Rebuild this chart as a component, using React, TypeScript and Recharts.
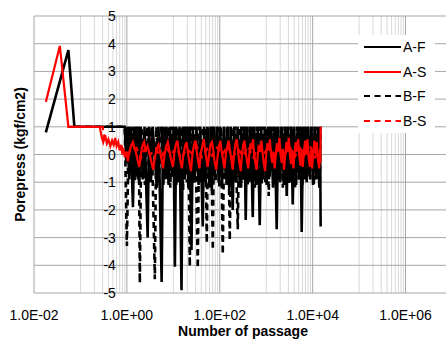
import React from 'react';
import { LineChart, Line, XAxis, YAxis, ReferenceLine, ReferenceDot, Legend } from 'recharts';

const xTicks = [0.01, 1, 100, 10000, 1000000];
const xTickLabels = ['1.0E-02', '1.0E+00', '1.0E+02', '1.0E+04', '1.0E+06'];
const yTicks = [5, 4, 3, 2, 1, 0, -1, -2, -3, -4, -5];
const majorGridX = [0.01, 1, 100, 10000, 1000000];
const minorDecades = [0.1, 10, 1000, 100000];
const minorMultipliers = [1, 2, 3, 4, 5, 6, 7, 8, 9];
const seriesNames = ['A-F', 'A-S', 'B-F', 'B-S'];

const afPoints: [number, number][] = [
  [0.018, 0.8], [0.055, 3.77], [0.074, 1.0], [0.9, 1.0],
  [0.97, -0.3], [1.03, 1], [1.12, -0.9], [1.2, 1], [1.35, -1.9], [1.45, 1], [1.58, -0.8], [1.7, 1],
  [1.85, -1.1], [1.98, 1], [2.2, -0.9], [2.4, 1], [2.8, -3.0], [3.0, 1], [3.3, -1.0], [3.6, 1],
  [4.4, -1.2], [4.8, 1], [5.6, -4.6], [6.0, 1], [6.6, -0.9], [7.1, 1], [7.9, -1.1], [8.5, 1],
  [9.5, -0.8], [10.1, 1],
  [10.8, -4.05], [11.5, 1], [12.5, -1.0], [13.6, 1], [15.0, -4.9], [16.0, 1], [17.5, -0.9], [19, 1],
  [21, -1.2], [22.5, 1], [24.6, -3.45], [26.3, 1], [29, -0.9], [31.5, 1], [35, -1.1], [38, 1],
  [43, -2.6], [46, 1], [50, -1.0], [54, 1], [60, -1.2], [64, 1], [67.5, -1.3], [72, 1],
  [79, -0.9], [86, 1], [95, -1.0], [102, 1],
  [112, -1.1], [122, 1], [135, -0.9], [146, 1], [160, -1.3], [172, 1], [190, -2.0], [205, 1],
  [225, -1.0], [242, 1], [270, -1.2], [290, 1], [320, -0.9], [340, 1], [362, -2.36], [388, 1],
  [430, -1.0], [465, 1], [513, -2.26], [550, 1], [610, -1.1], [660, 1], [725, -2.55], [780, 1],
  [860, -0.9], [930, 1],
  [1020, -1.1], [1090, 1], [1180, -0.8], [1270, 1], [1400, -1.2], [1520, 1], [1682, -2.7], [1810, 1],
  [2000, -1.0], [2180, 1], [2400, -1.1], [2580, 1], [2760, -1.5], [2960, 1], [3250, -1.0], [3480, 1],
  [3715, -1.8], [4000, 1], [4400, -1.1], [4750, 1], [5200, -0.9], [5500, 1], [5800, -2.8], [6250, 1],
  [6800, -0.9], [7000, 1], [7430, -1.0], [7900, 1], [8600, -0.8], [9300, 1], [10200, -1.1], [11000, 1],
  [12000, -0.9], [12900, 1], [13900, -1.2], [14400, 1], [14860, -2.6],
];

const bfPoints: [number, number][] = [
  [0.074, 1], [0.9, 1], [1.0, -3.3], [1.1, 1], [1.2, -0.7], [1.33, 1], [1.47, -1.0], [1.6, 1],
  [1.72, -0.9], [1.8, 1], [1.9, -4.64], [2.05, 1], [2.45, -1.1], [2.75, 1], [3.05, -0.9], [3.4, 1],
  [4.0, -4.5], [4.3, 1], [4.9, -1.0], [5.5, 1], [6.1, -1.1], [6.6, 1], [7.2, -0.9], [7.9, 1],
  [8.6, -1.2], [9.4, 1], [10.2, -0.8], [10.8, 1], [11.6, -1.1], [12.6, 1], [13.8, -0.9], [15, 1],
  [16.2, -1.3], [17.6, 1], [19.5, -1.0], [21, 1], [22.6, -4.05], [24.5, 1], [27, -1.1], [29.5, 1],
  [33.6, -4.1], [36, 1], [39, -1.0], [43, 1], [46.5, -0.9], [49, 1], [52.5, -3.2], [56, 1],
  [61, -1.1], [65, 1], [70.7, -3.45], [75, 1], [82, -1.0], [90, 1], [98, -1.2], [106, 1],
  [116, -3.6], [125, 1], [140, -1.1], [152, 1], [164, -3.1], [178, 1], [198, -1.0], [215, 1],
  [244, -2.7], [262, 1], [290, -1.2], [310, 1], [335, -0.9], [355, 1], [400, -1.1], [440, 1],
  [480, -0.9], [520, 1], [570, -1.2], [620, 1], [680, -0.9], [730, 1], [800, -1.1], [870, 1],
  [960, -1.0], [1040, 1], [1132, -1.5], [1200, 1], [1313, -0.6], [1420, 1], [1560, -1.1], [1700, 1],
  [1900, -0.9], [2080, 1], [2280, -1.2], [2480, 1], [2700, -0.9], [2900, 1], [3100, -1.1], [3350, 1],
  [3600, -0.8], [3900, 1], [4200, -1.2], [4600, 1], [5000, -0.9], [5400, 1], [6000, -1.1], [6500, 1],
  [7430, -1.0], [8000, 1], [8900, -0.9], [9700, 1], [10600, -1.1], [11500, 1], [12400, -0.8], [13400, 1],
  [14300, -1.0], [14800, 1],
];

const asPoints: [number, number][] = [
  [0.018, 1.9], [0.036, 3.92], [0.055, 1.0], [0.26, 1.0], [0.29, 0.6], [0.31, 0.45], [0.34, 0.7],
  [0.37, 0.4], [0.4, 0.55], [0.44, 0.3], [0.48, 0.5], [0.52, 0.35], [0.56, 0.6], [0.6, 0.3],
  [0.65, 0.45], [0.7, 0.15], [0.75, 0.35], [0.8, 0.0], [0.85, 0.2], [0.9, -0.1], [0.97, 0.1],
  [1.05, -0.25], [1.12, 0.05], [1.22, 0.3], [1.35, 0.45], [1.45, 0.2], [1.55, 0.1], [1.7, -0.2],
  [1.85, -0.45], [2.0, 0.0], [2.15, 0.3], [2.35, 0.45], [2.55, 0.1], [2.8, 0.3], [3.1, 0.0],
  [3.4, -0.3], [3.7, -0.55], [4.0, -0.1], [4.4, 0.2], [4.8, 0.35], [5.2, 0.1], [5.6, -0.2],
  [6.0, -0.5], [6.5, 0.0], [7.0, 0.3], [7.6, 0.45], [8.2, 0.15], [9.0, -0.2], [9.8, -0.45],
  [10.5, 0.05], [11.3, 0.35], [12.2, 0.5], [13.2, 0.1], [14.2, -0.25], [15.3, -0.5], [16.5, 0.0],
  [17.8, 0.3], [19.2, 0.45], [20.7, 0.05], [22.3, -0.3], [24, -0.6], [25.8, 0.0], [27.8, 0.35],
  [30, 0.5], [32, 0.1], [34, -0.2], [36.5, -0.5], [39, 0.05], [42, 0.3], [45, 0.55], [48, 0.2],
  [51, -0.1], [55, -0.45], [59, 0.0], [63, 0.35], [68, 0.45], [73, 0.1], [78, -0.3], [84, -0.55],
  [90, -0.05], [96, 0.3], [103, 0.5], [110, 0.1], [118, -0.2], [126, -0.5], [135, 0.0], [145, 0.3],
  [155, 0.5], [166, 0.15], [178, -0.2], [190, -0.55], [203, 0.0], [217, 0.4], [232, 0.55], [248, 0.1],
  [265, -0.3], [283, -0.6], [300, 0.0], [320, 0.35], [340, 0.5], [362, 0.1], [385, -0.25], [410, -0.5],
  [435, 0.05], [460, 0.4], [490, 0.2], [520, 0.55], [550, 0.0], [585, -0.3], [620, -0.55], [660, 0.0],
  [700, 0.35], [745, 0.1], [790, 0.5], [840, 0.0], [890, -0.35], [945, -0.6], [1000, 0.0], [1060, 0.4],
  [1130, 0.15], [1200, 0.55], [1270, 0.0], [1350, -0.3], [1430, 0.1], [1520, -0.5], [1610, 0.0],
  [1700, 0.4], [1800, 0.1], [1920, 0.6], [2030, 0.05], [2150, -0.3], [2280, 0.2], [2420, -0.55],
  [2560, 0.0], [2720, 0.45], [2880, 0.1], [3050, 0.6], [3230, 0.0], [3420, -0.35], [3630, 0.15],
  [3850, -0.5], [4080, 0.05], [4320, 0.45], [4580, 0.1], [4850, 0.55], [5150, -0.05], [5450, -0.4],
  [5780, 0.2], [6120, -0.45], [6490, 0.1], [6880, 0.5], [7290, 0.0], [7730, 0.55], [8190, -0.1],
  [8680, -0.45], [9200, 0.15], [9750, -0.5], [10300, 0.1], [10900, 0.5], [11600, 0.0], [12300, 0.45],
  [13000, -0.2], [13800, -0.5], [14400, 0.2], [14700, -0.3], [14860, 1.0],
];

const bsPoints: [number, number][] = [
  [0.055, 1], [0.3, 1], [0.33, 0.55], [0.4, 0.45], [0.5, 0.4], [0.62, 0.3], [0.76, 0.3],
  [0.9, 0.1], [1.1, 0.05], [1.3, 0.2], [1.6, 0.25], [2.0, -0.15], [2.5, 0.25], [3.2, 0.0],
  [4.2, 0.2], [5.5, -0.1], [7.0, 0.25], [9.0, 0.0], [11.5, 0.25], [15, -0.15], [19, 0.2],
  [25, 0.05], [32, 0.3], [41, -0.1], [53, 0.2], [68, -0.05], [88, 0.25], [114, 0.0],
  [147, 0.3], [190, -0.1], [245, 0.2], [316, -0.05], [408, 0.3], [527, -0.1], [680, 0.25],
  [878, 0.0], [1130, 0.3], [1460, -0.1], [1890, 0.25], [2440, -0.05], [3150, 0.3], [4060, -0.1],
  [5240, 0.25], [6770, 0.0], [8740, 0.3], [11300, -0.1], [14600, 0.2],
];

const toRows = (pts: [number, number][]) => pts.map(([x, y]) => ({ x, y }));

const FONT = '"Liberation Sans", Arial, sans-serif';
const BLACK = '#000000';
const RED = '#ff0000';
const DASH = '6 4.5';

const legendItems = [
  { name: seriesNames[0], color: BLACK, dash: undefined as string | undefined },
  { name: seriesNames[1], color: RED, dash: undefined as string | undefined },
  { name: seriesNames[2], color: BLACK, dash: DASH },
  { name: seriesNames[3], color: RED, dash: DASH },
];

const renderLegend = () => (
  <div style={{ background: '#ffffff', width: 77, height: 98, boxSizing: 'border-box', fontFamily: FONT }}>
    {legendItems.map((it) => (
      <div key={it.name} style={{ display: 'flex', alignItems: 'center', height: 24.6 }}>
        <svg width={44} height={6} style={{ display: 'block' }}>
          <line x1={6} x2={43} y1={3} y2={3} stroke={it.color} strokeWidth={2} strokeDasharray={it.dash} />
        </svg>
        <span style={{ fontSize: 14, color: '#000', marginLeft: 1, lineHeight: '14px' }}>{it.name}</span>
      </div>
    ))}
  </div>
);

export default function App() {
  const minorGridX: number[] = [];
  minorDecades.forEach((d) => minorMultipliers.forEach((m) => minorGridX.push(d * m)));
  return (
    <div style={{ position: 'absolute', left: 0, top: 0, width: 446, height: 339, overflow: 'hidden', background: '#fff', fontFamily: FONT }}>
      <LineChart width={470} height={339} margin={{ top: 16, right: 18, bottom: 0, left: 6 }}>
        <XAxis
          dataKey="x"
          type="number"
          scale="log"
          domain={[0.01, 10000000]}
          allowDataOverflow
          ticks={xTicks}
          tickFormatter={(v: number) => xTickLabels[xTicks.indexOf(v)] ?? ''}
          axisLine={false}
          tickLine={false}
          tickMargin={11}
          height={46}
          tick={{ fontSize: 14, fill: '#000', fontFamily: FONT }}
          label={{ value: 'Number of passage', position: 'insideBottom', offset: 3, fontSize: 14, fontWeight: 'bold', fill: '#000', fontFamily: FONT }}
        />
        <YAxis
          type="number"
          domain={[-5, 5]}
          ticks={yTicks}
          width={28}
          axisLine={false}
          tickLine={false}
          tick={false}
          allowDataOverflow
          label={{ value: 'Porepress (kgf/cm2)', angle: -90, position: 'center', fontSize: 14, fontWeight: 'bold', fill: '#000', fontFamily: FONT }}
        />
        {minorGridX.map((v) => (
          <ReferenceLine key={'mx' + v} x={v} stroke="#d9d9d9" strokeWidth={1} />
        ))}
        {majorGridX.map((v) => (
          <ReferenceLine key={'Mx' + v} x={v} stroke="#a6a6a6" strokeWidth={1} />
        ))}
        {yTicks.map((v) => (
          <ReferenceLine key={'y' + v} y={v} stroke="#a6a6a6" strokeWidth={1} />
        ))}
        <Line data={toRows(afPoints)} dataKey="y" name={seriesNames[0]} stroke={BLACK} strokeWidth={2.6} dot={false} isAnimationActive={false} />
        <Line data={toRows(bfPoints)} dataKey="y" name={seriesNames[2]} stroke={BLACK} strokeWidth={2.6} strokeDasharray={DASH} dot={false} isAnimationActive={false} />
        <Line data={toRows(asPoints)} dataKey="y" name={seriesNames[1]} stroke={RED} strokeWidth={2.2} dot={false} isAnimationActive={false} />
        <Line data={toRows(bsPoints)} dataKey="y" name={seriesNames[3]} stroke={RED} strokeWidth={2.2} strokeDasharray={DASH} dot={false} isAnimationActive={false} />
        {yTicks.map((v) => (
          <ReferenceDot
            key={'yl' + v}
            x={1}
            y={v}
            r={0}
            shape={(p: any) => (
              <text x={p.cx - 11} y={p.cy} textAnchor="end" dominantBaseline="central" fontSize={14} fill="#000" fontFamily={FONT}>
                {v}
              </text>
            )}
          />
        ))}
        <Legend
          layout="vertical"
          align="center"
          verticalAlign="middle"
          content={renderLegend}
          wrapperStyle={{ left: 358, top: 35, width: 77, height: 98, right: 'auto', bottom: 'auto' }}
        />
      </LineChart>
    </div>
  );
}
